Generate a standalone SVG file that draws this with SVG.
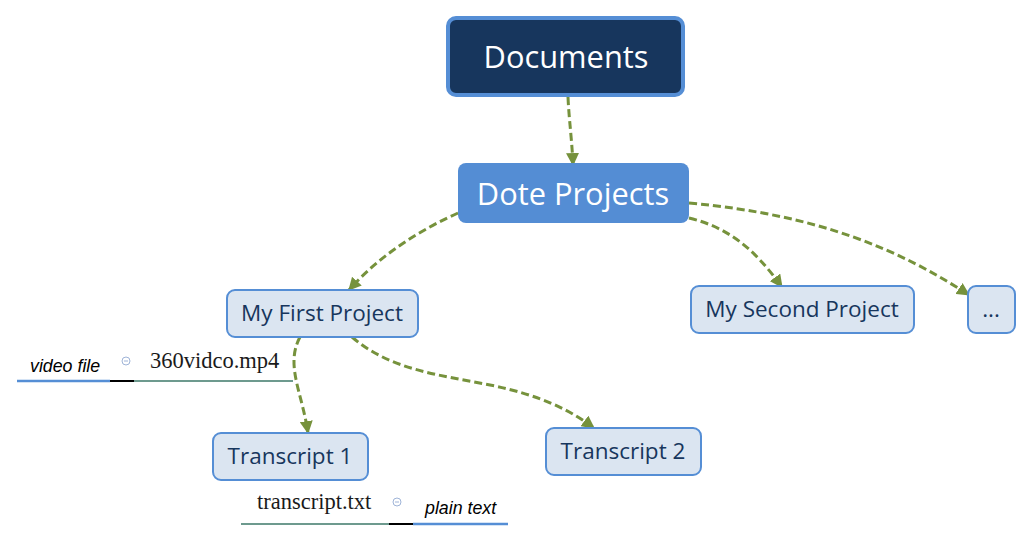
<svg xmlns="http://www.w3.org/2000/svg" width="1033" height="542" viewBox="0 0 1033 542">
<defs>
<style>
.node rect.light{fill:#dbe5f1;stroke:#558ed5;stroke-width:2}
.lbl{font-family:"Open Sans","Noto Sans",sans-serif;font-size:22.5px;fill:#17365d;text-anchor:middle}
.big{font-family:"Open Sans","Noto Sans",sans-serif;font-size:30.8px;fill:#ffffff;text-anchor:middle}
.conn path{fill:none;stroke:#76923c;stroke-width:3;stroke-dasharray:8 4}
.note{font-family:"Liberation Sans","DejaVu Sans",sans-serif;font-size:17.8px;font-style:italic;fill:#000}
.file{font-family:"Liberation Serif","DejaVu Serif",serif;font-size:22.5px;fill:#1a1a1a}
.icon{fill:none;stroke:#9fb4d8;stroke-width:1}
</style>
<marker id="arr" viewBox="0 0 12 12" refX="11" refY="6" markerWidth="13" markerHeight="13" markerUnits="userSpaceOnUse" orient="auto">
<path d="M0,0 L12,6 L0,12 z" fill="#76923c"/>
</marker>
</defs>
<rect width="1033" height="542" fill="#ffffff"/>

<g id="connectors" class="conn">
<path d="M568,97 C569,120 572,140 573,165" marker-end="url(#arr)"/>
<path d="M458,213 C420,230 380,255 349,290" marker-end="url(#arr)"/>
<path d="M689,218 C730,228 755,250 782,287" marker-end="url(#arr)"/>
<path d="M689,203 C820,215 900,250 969,295" marker-end="url(#arr)"/>
<path d="M300,337 C285,365 302,392 308,433" marker-end="url(#arr)"/>
<path d="M352,337 C390,370 440,375 490,385 C540,395 570,410 594,428" marker-end="url(#arr)"/>
</g>

<g id="documents" class="node">
<rect x="448" y="18" width="235" height="77" rx="8" fill="#17365d" stroke="#558ed5" stroke-width="4"/>
<text class="big" x="566" y="68">Documents</text>
</g>

<g id="dote-projects" class="node">
<rect x="458" y="163" width="231" height="60" rx="8" fill="#548dd4"/>
<text class="big" x="573" y="205">Dote Projects</text>
</g>

<g id="my-first-project" class="node">
<rect class="light" x="227" y="290" width="191" height="47" rx="8"/>
<text class="lbl" x="322" y="321">My First Project</text>
</g>

<g id="my-second-project" class="node">
<rect class="light" x="691" y="286" width="223" height="47" rx="8"/>
<text class="lbl" x="802" y="317">My Second Project</text>
</g>

<g id="more" class="node">
<rect class="light" x="968" y="286" width="47" height="47" rx="8"/>
<text class="lbl" x="991" y="317">...</text>
</g>

<g id="transcript-1" class="node">
<rect class="light" x="213" y="433" width="155" height="47" rx="8"/>
<text class="lbl" x="290" y="464">Transcript 1</text>
</g>

<g id="transcript-2" class="node">
<rect class="light" x="546" y="428" width="155" height="47" rx="8"/>
<text class="lbl" x="623" y="459">Transcript 2</text>
</g>

<g id="video-attr">
<text class="note" x="30" y="372">video file</text>
<line x1="17" y1="381" x2="110" y2="381" stroke="#558ed5" stroke-width="2.5"/>
<line x1="110" y1="381" x2="134" y2="381" stroke="#000" stroke-width="2"/>
<line x1="134" y1="381" x2="293" y2="381" stroke="#6d9a8e" stroke-width="2"/>
<circle class="icon" cx="126" cy="361" r="4"/>
<line class="icon" x1="124" y1="361" x2="128" y2="361"/>
<text class="file" x="150" y="368">360vidco.mp4</text>
</g>

<g id="transcript-attr">
<text class="file" x="257" y="509">transcript.txt</text>
<line x1="241" y1="524" x2="389" y2="524" stroke="#6d9a8e" stroke-width="2"/>
<line x1="389" y1="524" x2="413" y2="524" stroke="#000" stroke-width="2"/>
<line x1="413" y1="524" x2="508" y2="524" stroke="#558ed5" stroke-width="2.5"/>
<circle class="icon" cx="397" cy="502" r="4"/>
<line class="icon" x1="395" y1="502" x2="399" y2="502"/>
<text class="note" x="425" y="514">plain text</text>
</g>
</svg>
